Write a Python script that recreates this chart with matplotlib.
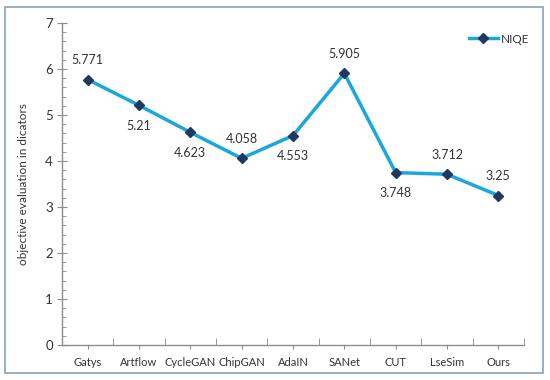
import matplotlib
matplotlib.use("Agg")
import matplotlib.pyplot as plt
from matplotlib.patches import Rectangle
from matplotlib.ticker import MultipleLocator, FixedLocator
import numpy as np

categories = ["Gatys", "Artflow", "CycleGAN", "ChipGAN", "AdaIN", "SANet", "CUT", "LseSim", "Ours"]
niqe = [5.771, 5.21, 4.623, 4.058, 4.553, 5.905, 3.748, 3.712, 3.25]
value_labels = ["5.771", "5.21", "4.623", "4.058", "4.553", "5.905", "3.748", "3.712", "3.25"]
label_pos = ["above", "below", "below", "above", "below", "above", "below", "above", "above"]

plt.rcParams['font.family'] = ['Lato', 'DejaVu Sans']

fig = plt.figure(figsize=(5.5, 3.8), dpi=100)
ax = fig.add_axes([62/550, 1-345/380, (524-62)/550, (345-23)/380])

# outer border
fig.patches.append(Rectangle((5/550, 1-373/380), 538/550, 366/380, transform=fig.transFigure,
                             fill=False, edgecolor="#8fa9c4", linewidth=1.3))

x = np.arange(len(categories))
line_color = "#1ba6e0"
marker_color = "#1f3860"
ax.plot(x, niqe, color=line_color, linewidth=2.5, marker="D", markersize=5,
        markerfacecolor=marker_color, markeredgecolor=marker_color, label="NIQE", zorder=3)

for xi, v, lab, pos in zip(x, niqe, value_labels, label_pos):
    dy = 14 if pos == "above" else -15
    ax.annotate(lab, (xi, v), xytext=(0, dy), textcoords="offset points",
                ha="center", va="center", fontsize=9, color="#333333")

ax.set_xlim(-0.5, len(categories) - 0.5)
ax.set_ylim(0, 7)
ax.yaxis.set_major_locator(MultipleLocator(1))
ax.yaxis.set_minor_locator(MultipleLocator(0.2))
ax.xaxis.set_major_locator(FixedLocator(x))
ax.xaxis.set_minor_locator(FixedLocator(np.arange(len(categories) + 1) - 0.5))
ax.set_xticklabels(categories)

for s in ["top", "right"]:
    ax.spines[s].set_visible(False)
for s in ["left", "bottom"]:
    ax.spines[s].set_color("#8c8c8c")
    ax.spines[s].set_linewidth(1.0)

ax.tick_params(axis="y", which="major", direction="inout", length=7, color="#8c8c8c",
               labelsize=9.5, labelcolor="#333333", pad=3)
ax.tick_params(axis="y", which="minor", direction="in", length=3, color="#8c8c8c")
ax.tick_params(axis="x", which="major", direction="out", length=3, color="#8c8c8c",
               labelsize=8, labelcolor="#333333", pad=6)
ax.tick_params(axis="x", which="minor", direction="in", length=5, color="#8c8c8c")

ax.set_ylabel("objective evaluation in dicators", fontsize=8.5, color="#333333", labelpad=12)

leg = ax.legend(loc="upper right", frameon=False, fontsize=8.5, handlelength=2.4,
                bbox_to_anchor=(1.035, 1.0), handletextpad=0.3)
for t in leg.get_texts():
    t.set_color("#333333")

fig.savefig("out.png", dpi=100, facecolor="white")
